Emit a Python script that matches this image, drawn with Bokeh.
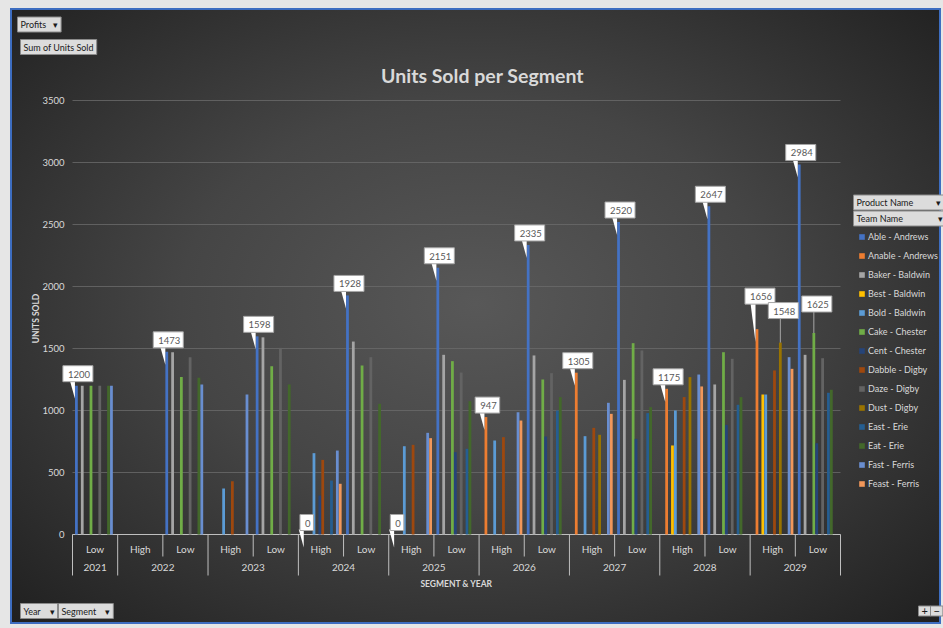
import numpy as np
from bokeh.plotting import figure
from bokeh.models import (Range1d, Legend, LegendItem, Label, ColumnDataSource)
from bokeh.embed import file_html
from bokeh.resources import INLINE
from bokeh.core.properties import value

# ---------------- data ----------------
years = ["2021", "2022", "2022", "2023", "2023", "2024", "2024", "2025", "2025",
         "2026", "2026", "2027", "2027", "2028", "2028", "2029", "2029"]
segments = ["Low", "High", "Low", "High", "Low", "High", "Low", "High", "Low",
            "High", "Low", "High", "Low", "High", "Low", "High", "Low"]
products = ["Able - Andrews", "Anable - Andrews", "Baker - Baldwin", "Best - Baldwin",
            "Bold - Baldwin", "Cake - Chester", "Cent - Chester", "Dabble - Digby",
            "Daze - Digby", "Dust - Digby", "East - Erie", "Eat - Erie",
            "Fast - Ferris", "Feast - Ferris"]
colors = ["#4472C4", "#ED7D31", "#A5A5A5", "#FFC000", "#5B9BD5", "#70AD47", "#264478",
          "#9E480E", "#636363", "#997300", "#255E91", "#43682B", "#698ED0", "#F1975A"]

able   = [1200, 0, 1473, 0, 1598, 0, 1928, 0, 2151, 0, 2335, 0, 2520, 0, 2647, 0, 2984]
anable = [0, 0, 0, 0, 0, 0, 0, 0, 0, 947, 0, 1305, 0, 1175, 0, 1656, 0]
baker  = [1200, 0, 1470, 0, 1590, 0, 1556, 0, 1449, 0, 1444, 0, 1247, 0, 1210, 0, 1449]
best   = [0, 0, 0, 0, 0, 0, 0, 0, 0, 0, 0, 0, 0, 718, 0, 1129, 0]
bold   = [0, 0, 0, 370, 0, 656, 0, 712, 0, 758, 0, 793, 0, 1000, 0, 1129, 0]
cake   = [1200, 0, 1270, 0, 1357, 0, 1363, 0, 1398, 0, 1250, 0, 1543, 0, 1470, 0, 1625]
cent   = [0, 0, 0, 0, 0, 314, 0, 0, 664, 0, 790, 0, 771, 0, 884, 0, 736]
dabble = [0, 0, 0, 430, 0, 602, 0, 723, 0, 785, 0, 860, 0, 1108, 0, 1323, 0]
daze   = [1200, 0, 1430, 0, 1505, 0, 1430, 0, 1306, 0, 1301, 0, 1484, 0, 1417, 0, 1422]
dust   = [0, 0, 0, 0, 0, 0, 0, 0, 0, 0, 0, 804, 0, 1269, 0, 1548, 0]
east   = [0, 0, 0, 0, 0, 435, 0, 0, 691, 0, 1000, 0, 979, 0, 1046, 0, 1143]
eat    = [1200, 0, 1265, 0, 1210, 0, 1054, 0, 1075, 0, 1108, 0, 1027, 0, 1108, 0, 1167]
fast   = [1200, 0, 1210, 1130, 0, 677, 0, 820, 0, 986, 0, 1062, 0, 1290, 0, 1430, 0]
feast  = [0, 0, 0, 0, 0, 409, 0, 777, 0, 919, 0, 973, 0, 1194, 0, 1336, 0]
series_values = [able, anable, baker, best, bold, cake, cent, dabble, daze, dust,
                 east, eat, fast, feast]

y_ticks = [0, 500, 1000, 1500, 2000, 2500, 3000, 3500]

# data labels: (category index, series index)
callouts = [(0, 0), (2, 0), (4, 0), (5, 1), (6, 0), (7, 1), (8, 0), (9, 1), (10, 0),
            (11, 1), (12, 0), (13, 1), (14, 0), (15, 1), (15, 9), (16, 5), (16, 0)]

# ---------------- layout / style ----------------
FONT = "Lato"
W, H = 943, 628
PL, PR, PT, PB = 72, 840, 100, 534     # pixel box of the plotting area
N_CAT, N_SER = len(segments), len(products)
PXU = (PB - PT) / 3500.0               # pixels per unit (y)
XPX = N_CAT / (PR - PL)                # x units per pixel
SLOT = 2.92 * XPX
NB = "\u00a0"


def X(px):
    return (px - PL) * XPX


def Y(py):
    return (PB - py) / PXU


def dy(px):
    return px / PXU


def off(s):
    return 0.5 + (s - (N_SER - 1) / 2.0) * SLOT + 0.3 * XPX


TXT = "#d9d9d9"
GRID = "#6a6a6a"

p = figure(width=W, height=H, x_range=Range1d(X(0), X(W)), y_range=Range1d(Y(H), Y(0)),
           output_backend="svg", toolbar_location=None, x_axis_location=None,
           y_axis_location=None, min_border=0,
           background_fill_color=None, border_fill_color=None, outline_line_color=None)
p.grid.visible = False
p.styles = {"background":
            "radial-gradient(ellipse at 50% 48%, #585858 0%, #454545 45%, #202020 100%) 12px 10px / 927px 612px no-repeat, "
            "linear-gradient(#3d6dc0, #3d6dc0) 10px 8px / 931px 616px no-repeat, #e6e6e6"}

# gridlines and y tick labels
p.segment(x0=[0] * len(y_ticks), x1=[N_CAT] * len(y_ticks), y0=y_ticks, y1=y_ticks,
          line_color=GRID, line_width=1, line_alpha=0.8)
p.text(x=[X(64)] * len(y_ticks), y=y_ticks, text=[str(t) for t in y_ticks],
       text_align="right", text_baseline="middle", text_color=TXT,
       text_font=value(FONT), text_font_size="9.5px")

# axis line & category separators
p.segment(x0=[0], x1=[N_CAT], y0=[0], y1=[0], line_color="#bfbfbf", line_width=1)
sep_x, sep_y1 = [], []
for i in range(N_CAT + 1):
    long_sep = i == 0 or i == N_CAT or years[i] != years[i - 1]
    sep_x.append(i)
    sep_y1.append(-dy(41) if long_sep else -dy(22))
p.segment(x0=sep_x, x1=sep_x, y0=[0] * len(sep_x), y1=sep_y1, line_color="#bfbfbf", line_width=1)

centers = [i + 0.5 for i in range(N_CAT)]
p.text(x=centers, y=[-dy(14)] * N_CAT, text=segments, text_align="center",
       text_baseline="middle", text_color=TXT, text_font=value(FONT), text_font_size="10px")
yr_names, yr_centers = [], []
for yv in dict.fromkeys(years):
    idx = [i for i, v in enumerate(years) if v == yv]
    yr_names.append(yv)
    yr_centers.append((min(idx) + max(idx) + 1) / 2.0)
p.text(x=yr_centers, y=[-dy(33)] * len(yr_names), text=yr_names, text_align="center",
       text_baseline="middle", text_color=TXT, text_font=value(FONT), text_font_size="10px")
p.text(x=[N_CAT / 2.0], y=[-dy(49)], text=["SEGMENT & YEAR"], text_align="center",
       text_baseline="middle", text_color=TXT, text_font=value(FONT), text_font_size="8.5px",
       text_font_style="bold")

# bars
renderers = []
for s in range(N_SER):
    src = ColumnDataSource(dict(x=[i + off(s) for i in range(N_CAT)], top=series_values[s]))
    r = p.vbar(x="x", top="top", bottom=0, width=SLOT * 0.95, source=src,
               fill_color=colors[s], line_color=None)
    renderers.append(r)

# callouts
special = {(15, 1): ("wedge", 25, 3), (15, 9): ("line", 24, 3), (16, 5): ("line", 21, 3)}
wx, wy = [], []
lx0, lx1, ly0, ly1 = [], [], [], []
for (c, s) in callouts:
    v = series_values[s][c]
    bx = c + off(s)
    kind, gap, shift = special.get((c, s), ("wedge", 4, 1.5))
    bl = bx - SLOT / 2
    if kind == "wedge":
        wx.append([bl - 5 * XPX, bl, bl])
        wy.append([v + dy(gap + 1), v + dy(gap + 1), v - dy(13)])
    else:
        lx0.append(bx); lx1.append(bx); ly0.append(v + dy(gap)); ly1.append(v)
    p.add_layout(Label(x=bx + shift * XPX, y=v + dy(gap), text=str(v), text_align="center",
                       text_baseline="bottom", text_color="#595959",
                       text_font=FONT, text_font_size="9.5px",
                       background_fill_color="white", border_line_color="#a6a6a6",
                       padding=(5, 3, 5, 4)))
p.patches(xs=wx, ys=wy, fill_color="white", line_color=None)
p.segment(x0=lx0, x1=lx1, y0=ly0, y1=ly1, line_color="#a6a6a6", line_width=1)

# title & axis label
p.add_layout(Label(x=X(482), y=Y(75), text="Units Sold per Segment", text_align="center",
                   text_baseline="middle", text_color=TXT, text_font=FONT,
                   text_font_size="19.5px", text_font_style="bold"))
p.add_layout(Label(x=X(35), y=Y(318), text="UNITS SOLD", angle=np.pi / 2, text_align="center",
                   text_baseline="middle", text_color=TXT, text_font=FONT,
                   text_font_size="8.5px", text_font_style="bold"))

# legend
legend = Legend(items=[LegendItem(label=products[s], renderers=[renderers[s]]) for s in range(N_SER)],
                location=(858, 138), glyph_height=7, glyph_width=7, label_height=13,
                spacing=6, padding=0, margin=0, label_standoff=3,
                background_fill_alpha=0, border_line_color=None,
                label_text_color=TXT, label_text_font=FONT, label_text_font_size="9px")
p.add_layout(legend)


# pivot buttons
def button(text, px, py, size="9px", pad=(3, 2)):
    p.add_layout(Label(x=X(px), y=Y(py), text=text, text_align="left", text_baseline="middle",
                       text_color="#1a1a1a", text_font=FONT, text_font_size=size,
                       background_fill_color="#dcdcdc", border_line_color="#8a8a8a",
                       padding=pad))


button("Profits" + NB * 3 + "\u25be", 17, 24)
button("Sum of Units Sold", 20, 46.5)
button("Year" + NB * 4 + "\u25be", 20, 610.5)
button("Segment" + NB * 4 + "\u25be", 58, 610.5)
button("Product Name" + NB * 10 + "\u25be", 853, 202)
button("Team Name" + NB * 15 + "\u25be", 853, 218)
button("+", 918, 610.5, "11px", (3, 1))
button("\u2212", 930, 610.5, "11px", (3, 1))

open("out.html", "w").write(file_html(p, INLINE))
